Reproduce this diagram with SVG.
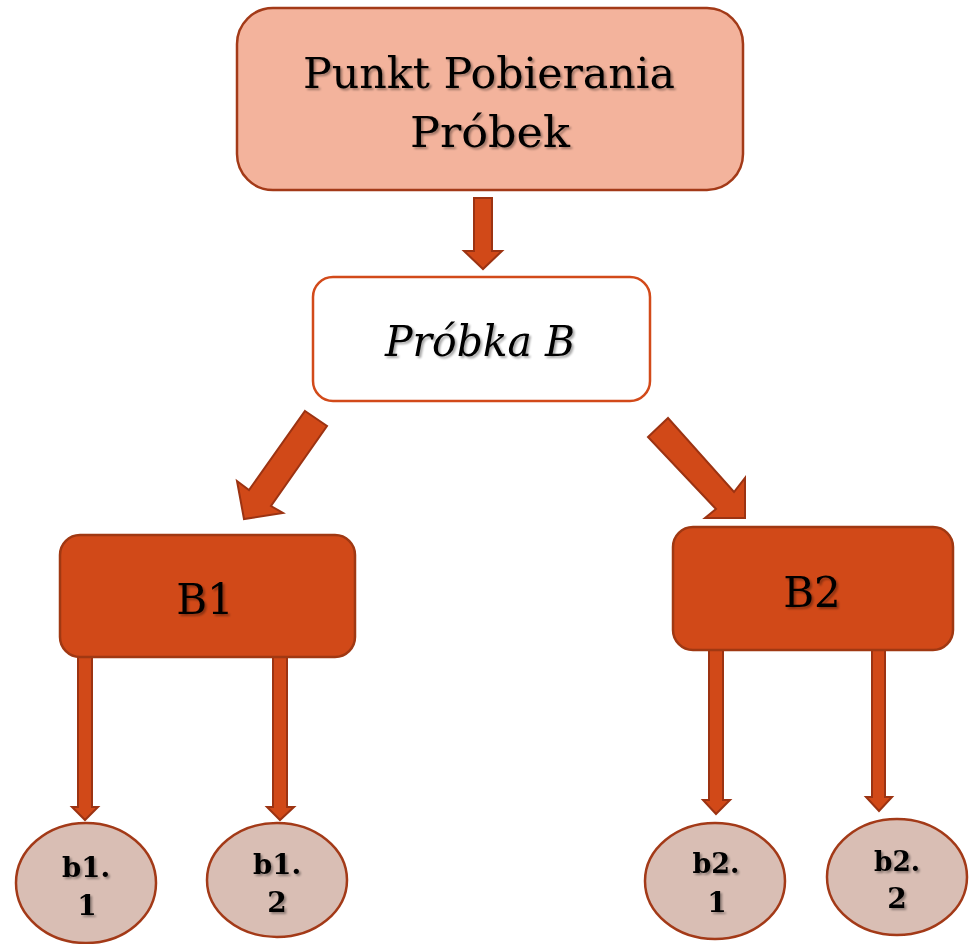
<svg xmlns="http://www.w3.org/2000/svg" width="973" height="944" viewBox="0 0 973 944">
<defs>
<filter id="ts" x="-10%" y="-10%" width="120%" height="130%">
<feGaussianBlur in="SourceAlpha" stdDeviation="1.2"/>
<feOffset dx="1.5" dy="1.5" result="b"/>
<feComponentTransfer><feFuncA type="linear" slope="0.35"/></feComponentTransfer>
<feMerge><feMergeNode/><feMergeNode in="SourceGraphic"/></feMerge>
</filter>
</defs>
<style>
text{font-family:"DejaVu Serif","Liberation Serif",serif;fill:#000;text-anchor:middle;}
.big{font-size:42px;}
.mid{font-size:42px;}
.small{font-size:28px;font-weight:bold;}
.arrow{fill:#D14918;stroke:#9C3312;stroke-width:2;stroke-linejoin:miter;}
.leaf{fill:#D9BEB4;stroke:#A33A18;stroke-width:2.5;}
.bbox{fill:#D14918;stroke:#A03812;stroke-width:2.5;}
</style>
<rect width="973" height="944" fill="#fff"/>
<g id="connectors">
<polygon class="arrow" points="474,198 492,198 492,251 502,251 483,269 464,251 474,251"/>
<polygon class="arrow" points="305,411 327,426 271,506 283,513 244,519 237,481 249,490"/>
<polygon class="arrow" points="668,418 648,437 716,509 705,518 745,518 745,478 734,492"/>
<polygon class="arrow" points="78,657 92,657 92,807 98,807 85,820 72,807 78,807"/>
<polygon class="arrow" points="273,657 287,657 287,807 294,807 280,820 267,807 273,807"/>
<polygon class="arrow" points="709,650 723,650 723,800 730,800 716,814 703,800 709,800"/>
<polygon class="arrow" points="872,648 885,648 885,797 892,797 879,811 866,797 872,797"/>
</g>
<g id="punkt">
<rect x="237" y="8" width="506" height="182" rx="36" fill="#F3B39C" stroke="#A33A18" stroke-width="2.5"/>
<text class="big" x="489" y="88" textLength="372" lengthAdjust="spacingAndGlyphs" filter="url(#ts)">Punkt Pobierania</text>
<text class="big" x="490" y="147" textLength="160" lengthAdjust="spacingAndGlyphs" filter="url(#ts)">Próbek</text>
</g>
<g id="probkaB">
<rect x="313" y="277" width="337" height="124" rx="20" fill="#fff" stroke="#D24A1A" stroke-width="2.5"/>
<text class="big" x="480" y="356" font-style="italic" textLength="190" lengthAdjust="spacingAndGlyphs" filter="url(#ts)">Próbka B</text>
</g>
<g id="B1">
<rect class="bbox" x="60" y="535" width="295" height="122" rx="20"/>
<text class="mid" x="205" y="614" filter="url(#ts)">B1</text>
</g>
<g id="B2">
<rect class="bbox" x="673" y="527" width="280" height="123" rx="20"/>
<text class="mid" x="812" y="607" filter="url(#ts)">B2</text>
</g>
<g id="b1-1">
<ellipse class="leaf" cx="86" cy="883" rx="70" ry="60"/>
<text class="small" x="86" y="877" textLength="48" lengthAdjust="spacingAndGlyphs" filter="url(#ts)">b1.</text>
<text class="small" x="87" y="915" filter="url(#ts)">1</text>
</g>
<g id="b1-2">
<ellipse class="leaf" cx="277" cy="880" rx="70" ry="57"/>
<text class="small" x="277" y="874" textLength="48" lengthAdjust="spacingAndGlyphs" filter="url(#ts)">b1.</text>
<text class="small" x="277" y="912" filter="url(#ts)">2</text>
</g>
<g id="b2-1">
<ellipse class="leaf" cx="715" cy="881" rx="70" ry="58"/>
<text class="small" x="716" y="873" textLength="47" lengthAdjust="spacingAndGlyphs" filter="url(#ts)">b2.</text>
<text class="small" x="717" y="912" filter="url(#ts)">1</text>
</g>
<g id="b2-2">
<ellipse class="leaf" cx="897" cy="877" rx="70" ry="58"/>
<text class="small" x="897" y="871" textLength="46" lengthAdjust="spacingAndGlyphs" filter="url(#ts)">b2.</text>
<text class="small" x="897" y="908" filter="url(#ts)">2</text>
</g>
</svg>
